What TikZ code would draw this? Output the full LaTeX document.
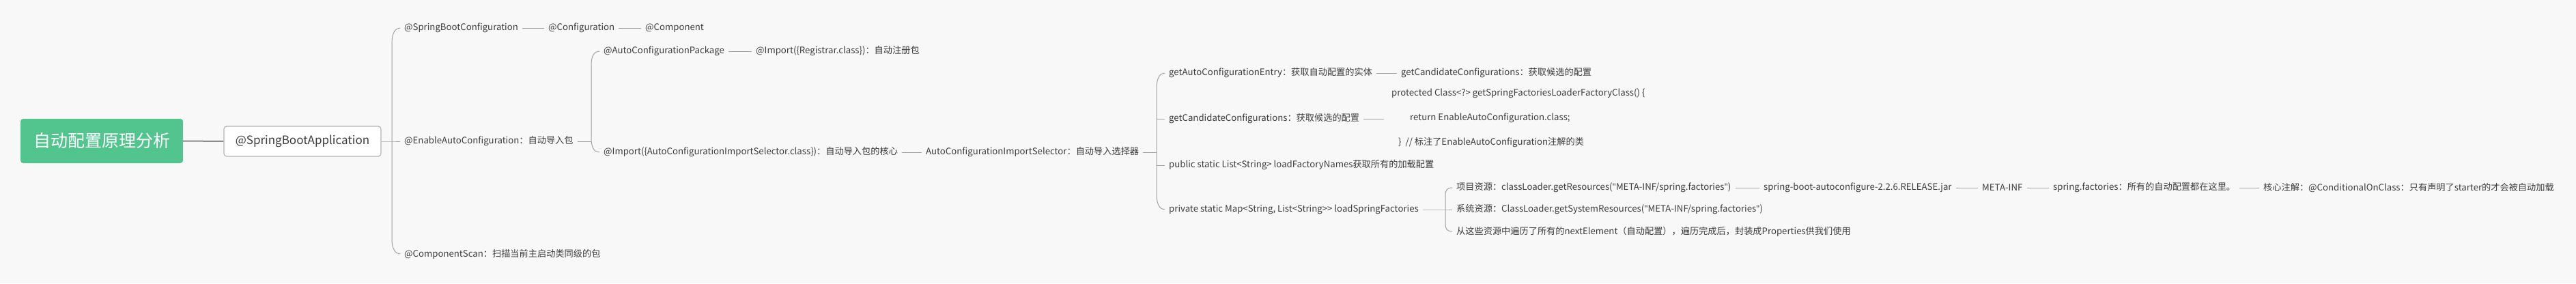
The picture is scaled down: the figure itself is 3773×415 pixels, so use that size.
\documentclass[tikz,border=0pt]{standalone}
\usepackage{fontspec}
\setmainfont{Noto Sans CJK SC}
\newfontfamily\latq{Noto Sans}
\usetikzlibrary{calc}
\definecolor{bg}{HTML}{F8F8F8}
\definecolor{txt}{HTML}{3C3C3C}
\definecolor{ln}{HTML}{A0A0A0}
\definecolor{ln2}{HTML}{8C8C8C}
\definecolor{rootg}{HTML}{52C48D}
\definecolor{boxb}{HTML}{B4B4B4}
\newcommand\qq{{\latq"}}
\newcommand\tbracket[4]{%
 \draw[conn] (#2.west) .. controls ($(#1 |- #2.west)+(#4*0.25,0)$) and ($(#1 |- #2.west)+(0,#4*0.3)$) .. ($(#1 |- #2.west)+(0,#4)$) -- ($(#1 |- #3.west)+(0,-#4)$) .. controls ($(#1 |- #3.west)+(0,-#4*0.3)$) and ($(#1 |- #3.west)+(#4*0.25,0)$) .. (#3.west);}
\begin{document}
\begin{tikzpicture}[x=1pt,y=-1pt,
  lbl/.style={anchor=west, inner xsep=6pt, inner ysep=2pt, text=txt, font=\fontsize{13.2}{16}\selectfont},
  conn/.style={draw=ln, line width=1pt},
  rootbox/.style={fill=rootg, rounded corners=4pt, minimum width=238pt, minimum height=65pt, text=white, font=\fontsize{25}{30}\selectfont},
  mainbox/.style={draw=boxb, fill=white, rounded corners=4pt, line width=1.2pt, minimum width=230pt, minimum height=44pt, text=txt, font=\fontsize{17}{20}\selectfont}]
\useasboundingbox (0,0) rectangle (3773,415);
\fill[bg] (0,0) rectangle (3773,415);

\node[rootbox] (root) at (149,206.5) {自动配置原理分析};
\node[mainbox] (spa) at (443,207) {@SpringBootApplication};
\draw[ln2, line width=2pt] (root.east) -- (spa.west);

% level 2
\node[lbl] (sbc) at (586,41) {@SpringBootConfiguration};
\node[lbl] (cfg) at (797,41) {@Configuration};
\node[lbl] (cmp) at (939,41) {@Component};
\node[lbl] (eac) at (586,207) {@EnableAutoConfiguration：自动导入包};
\node[lbl] (cs) at (586,372) {@ComponentScan：扫描当前主启动类同级的包};
\coordinate (b1) at (574,207);
\draw[conn] (spa.east) -- (b1) -- (eac.west);
\tbracket{b1}{sbc}{cs}{22}
\draw[conn] (sbc.east) -- (cfg.west);
\draw[conn] (cfg.east) -- (cmp.west);

% level 3
\node[lbl] (acp) at (878,75) {@AutoConfigurationPackage};
\node[lbl] (reg) at (1101,75) {@Import(\{Registrar.class\})：自动注册包};
\node[lbl] (imp) at (878,223) {@Import(\{AutoConfigurationImportSelector.class\})：自动导入包的核心};
\node[lbl] (ais) at (1350,223) {AutoConfigurationImportSelector：自动导入选择器};
\coordinate (b2) at (866,207);
\draw[conn] (eac.east) -- (b2);
\tbracket{b2}{acp}{imp}{20}
\draw[conn] (acp.east) -- (reg.west);
\draw[conn] (imp.east) -- (ais.west);

% level 4
\node[lbl] (gace) at (1706,107) {getAutoConfigurationEntry：获取自动配置的实体};
\node[lbl] (gcc1) at (2046,107) {getCandidateConfigurations：获取候选的配置};
\node[lbl] (gcc2) at (1706,174) {getCandidateConfigurations：获取候选的配置};
\node[lbl, align=left, font=\fontsize{13.2}{36}\selectfont] (code) at (2027,173) {\hspace*{5pt}protected Class<?> getSpringFactoriesLoaderFactoryClass() \{\\\hspace*{32pt}return EnableAutoConfiguration.class;\\\hspace*{15pt}\}~ // 标注了EnableAutoConfiguration注解的类};
\node[lbl] (lfn) at (1706,242) {public static List<String> loadFactoryNames获取所有的加载配置};
\node[lbl] (lsf) at (1706,307) {private static Map<String, List<String>{}> loadSpringFactories};
\coordinate (b3) at (1694,223);
\draw[conn] (ais.east) -- (b3);
\tbracket{b3}{gace}{lsf}{22}
\draw[conn] (b3 |- gcc2.west) -- (gcc2.west);
\draw[conn] (b3 |- lfn.west) -- (lfn.west);
\draw[conn] (gace.east) -- (gcc1.west);
\draw[conn] (gcc2.east) -- (gcc2.east -| code.west);

% level 5
\node[lbl] (r1) at (2127,275) {项目资源：classLoader.getResources(\qq META-INF/spring.factories\qq)};
\node[lbl] (jar) at (2577,275) {spring-boot-autoconfigure-2.2.6.RELEASE.jar};
\node[lbl] (meta) at (2897,275) {META-INF};
\node[lbl] (sf) at (3001,275) {spring.factories：所有的自动配置都在这里。};
\node[lbl] (core) at (3309,275) {核心注解：@ConditionalOnClass：只有声明了starter的才会被自动加载};
\node[lbl] (r2) at (2127,307) {系统资源：ClassLoader.getSystemResources(\qq META-INF/spring.factories\qq)};
\node[lbl] (r3) at (2127,339) {从这些资源中遍历了所有的nextElement（自动配置），遍历完成后，封装成Properties供我们使用};
\coordinate (b4) at (2117,307);
\draw[conn] (lsf.east) -- (b4) -- (r2.west);
\tbracket{b4}{r1}{r3}{11}
\draw[conn] (r1.east) -- (jar.west);
\draw[conn] (jar.east) -- (meta.west);
\draw[conn] (meta.east) -- (sf.west);
\draw[conn] (sf.east) -- (core.west);
\end{tikzpicture}
\end{document}
